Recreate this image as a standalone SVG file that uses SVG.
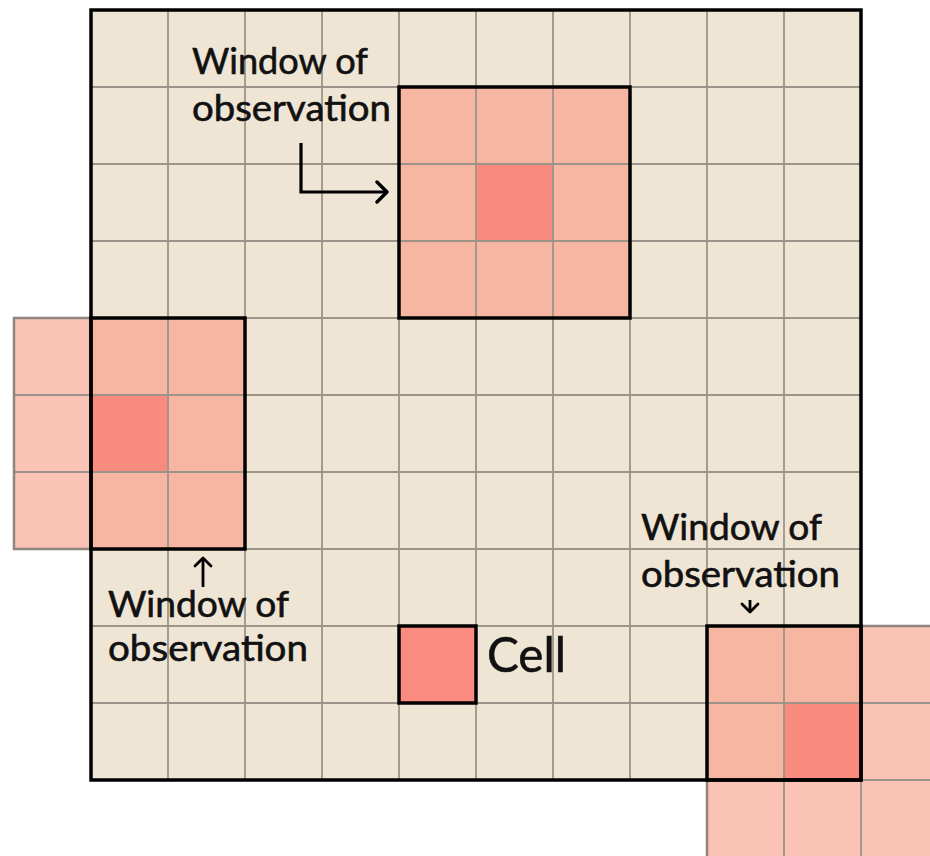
<svg xmlns="http://www.w3.org/2000/svg" width="930" height="856" viewBox="0 0 930 856">
<defs>
<style>
.bg{fill:#EFE5D5}
.win{fill:#F6B6A1}
.ctr{fill:#F98B7E}
.ext{fill:#FBC2B6}
.gl{stroke:#9C948B;stroke-width:1.8;fill:none}
.eb{stroke:#8E8480;stroke-width:2.5;fill:none}
.bk{stroke:#000;stroke-width:3.5;fill:none}
.lbl{font-family:Lato,"Open Sans","Liberation Sans",sans-serif;font-size:36px;fill:#111;stroke:#111;stroke-width:0.6}
.conn{stroke:#000;stroke-width:3.2;fill:none}
</style>
<marker id="chev" viewBox="0 0 14 24" refX="12" refY="12" markerWidth="14" markerHeight="24" markerUnits="userSpaceOnUse" orient="auto">
<path d="M2,2 L12,12 L2,22" fill="none" stroke="#000" stroke-width="3.4" stroke-linecap="round" stroke-linejoin="round"/>
</marker>
<marker id="chevs" viewBox="0 0 12 20" refX="10" refY="10" markerWidth="12" markerHeight="20" markerUnits="userSpaceOnUse" orient="auto">
<path d="M2,2 L10,10 L2,18" fill="none" stroke="#000" stroke-width="2.8" stroke-linecap="round" stroke-linejoin="round"/>
</marker>
</defs>
<rect width="930" height="856" fill="#FFFFFF"/>

<g id="grid">
<rect class="bg" x="91" y="10" width="770" height="770"/>
</g>

<g id="window-top">
<rect class="win" x="399" y="87" width="231" height="231"/>
<rect class="ctr" x="476" y="164" width="77" height="77"/>
</g>

<g id="window-left">
<rect class="ext" x="14" y="318" width="77" height="231"/>
<rect class="win" x="91" y="318" width="154" height="231"/>
<rect class="ctr" x="91" y="395" width="77" height="77"/>
</g>

<g id="window-bottom-right">
<rect class="ext" x="861" y="626" width="80" height="240"/>
<rect class="ext" x="707" y="780" width="154" height="86"/>
<rect class="win" x="707" y="626" width="154" height="154"/>
<rect class="ctr" x="784" y="703" width="77" height="77"/>
</g>

<g id="cell">
<rect x="399" y="626" width="77" height="77" fill="#FA8B80"/>
</g>

<g id="grid-lines">
<path class="gl" d="M168,10V780 M245,10V780 M322,10V780 M399,10V780 M476,10V780 M553,10V780 M630,10V780 M707,10V780 M784,10V780
M91,87H861 M91,164H861 M91,241H861 M91,318H861 M91,395H861 M91,472H861 M91,549H861 M91,626H861 M91,703H861"/>
<path class="gl" d="M14,395H91 M14,472H91 M861,703H930 M861,780H930 M784,780V856 M861,780V856"/>
<path class="eb" d="M91,318H14V549H91"/>
<path class="eb" d="M861,626H930 M707,780V856"/>
</g>

<g id="borders">
<rect class="bk" x="91" y="10" width="770" height="770"/>
<rect class="bk" x="399" y="87" width="231" height="231"/>
<rect class="bk" x="91" y="318" width="154" height="231"/>
<rect class="bk" x="707" y="626" width="154" height="154"/>
<rect class="bk" x="399" y="626" width="77" height="77"/>
</g>

<g id="labels">
<text class="lbl" x="192" y="74" textLength="176" lengthAdjust="spacingAndGlyphs">Window of</text>
<text class="lbl" x="192" y="121" textLength="199" lengthAdjust="spacingAndGlyphs">observation</text>
<text class="lbl" x="108" y="617" textLength="181" lengthAdjust="spacingAndGlyphs">Window of</text>
<text class="lbl" x="108" y="661" textLength="200" lengthAdjust="spacingAndGlyphs">observation</text>
<text class="lbl" x="641" y="540" textLength="181" lengthAdjust="spacingAndGlyphs">Window of</text>
<text class="lbl" x="641" y="587" textLength="199" lengthAdjust="spacingAndGlyphs">observation</text>
<text class="lbl" x="487" y="672" style="font-size:49px" textLength="79" lengthAdjust="spacingAndGlyphs">Cell</text>
</g>

<g id="connectors">
<path class="conn" d="M301,143V192H387" marker-end="url(#chev)"/>
<path class="conn" d="M203,587V558" marker-end="url(#chevs)" style="stroke-width:2.8"/>
<path class="conn" d="M750,600V612" marker-end="url(#chevs)" style="stroke-width:2.8"/>
</g>
</svg>
